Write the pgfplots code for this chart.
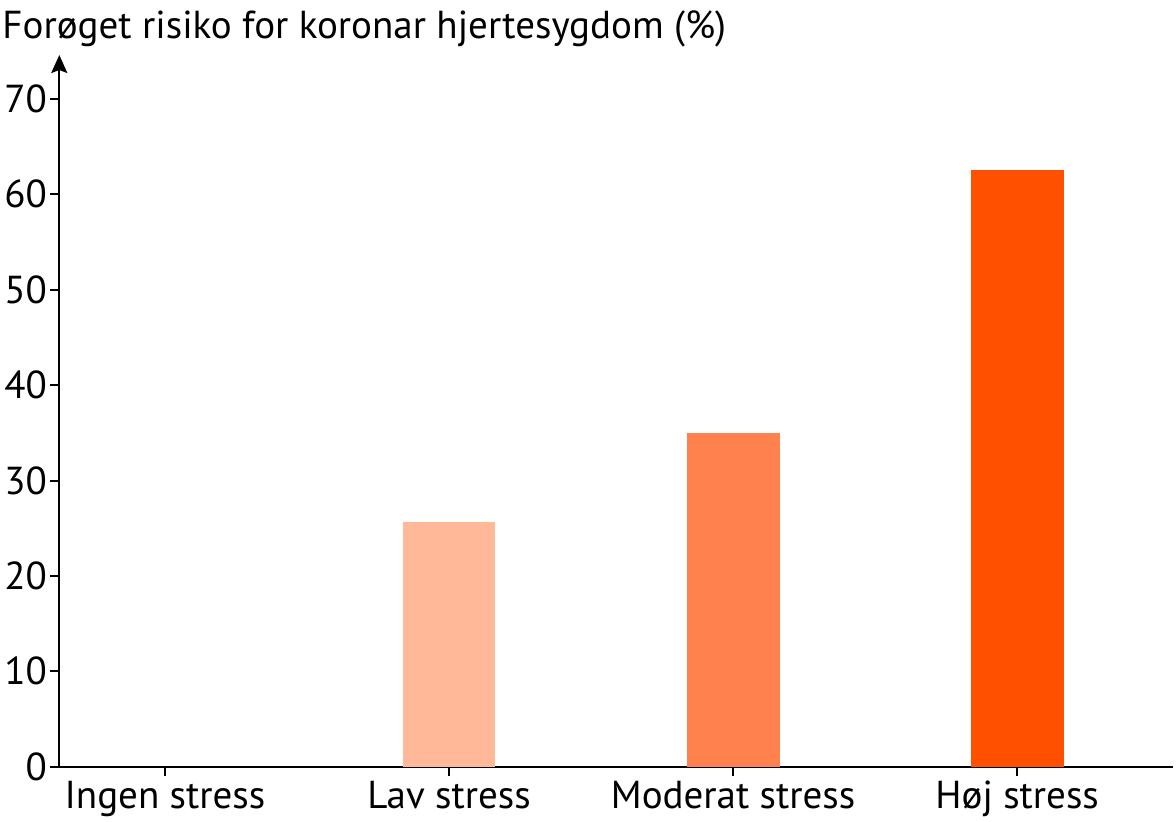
\documentclass[border=0pt]{standalone}
\usepackage{pgfplots}
\pgfplotsset{compat=1.18}
\usepackage{fontspec}
\setmainfont{PT Sans}
\usetikzlibrary{arrows.meta}
\definecolor{lav}{RGB}{255,184,152}
\definecolor{mod}{RGB}{255,130,78}
\definecolor{hoj}{RGB}{255,80,0}
\begin{document}
\fontsize{19.5}{23}\selectfont
\begin{tikzpicture}
\begin{axis}[
  at={(0,0)}, anchor=south west,
  scale only axis,
  width=556.9pt, height=355.85pt,
  xmin=-0.372, xmax=3.549,
  ymin=0, ymax=74.6,
  axis x line=bottom,
  axis y line=left,
  axis line style={-, line width=1pt},
  y axis line style={-{Stealth[length=9pt,width=8pt,inset=1.5pt]}},
  tick align=outside,
  major tick length=4.5pt,
  tick style={line width=1pt, black},
  xtick={0,1,2,3},
  xticklabels={Ingen stress, Lav stress, Moderat stress, Høj stress},
  ytick={0,10,...,70},
  /pgf/number format/assume math mode=true,
  tick label style={font=\fontsize{19.5}{23}\selectfont},
  yticklabel style={inner sep=1.5pt},
  xticklabel style={inner sep=2.5pt},
  ybar, bar width=0.327,
  clip=false,
]
\addplot[fill=lav, draw=none, bar shift=0] coordinates {(1,25.6)};
\addplot[fill=mod, draw=none, bar shift=0] coordinates {(2,35.0)};
\addplot[fill=hoj, draw=none, bar shift=0] coordinates {(3,62.5)};
\end{axis}
\node[anchor=base west, inner sep=0pt] at (-28.6pt,364.35pt) {Forøget risiko for koronar hjertesygdom (\%)};
\pgfresetboundingbox
\useasboundingbox (-29.65pt,-27.15pt) rectangle (558.35pt,383.35pt);
\end{tikzpicture}
\end{document}
